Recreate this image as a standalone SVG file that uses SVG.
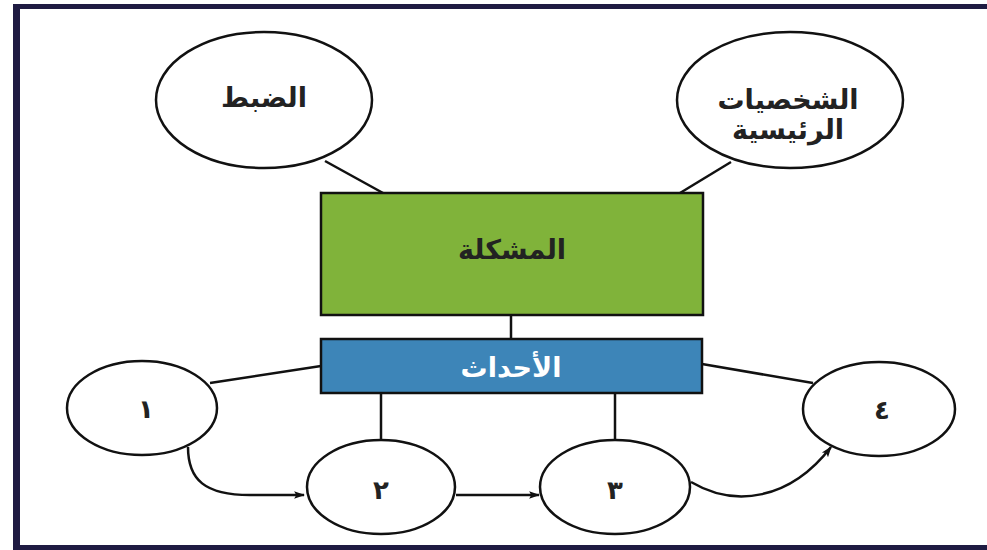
<svg xmlns="http://www.w3.org/2000/svg" width="987" height="550" viewBox="0 0 987 550">
<defs>
<style>
.n{fill:#fff;stroke:#111;stroke-width:2.5}
.t{font-family:"DejaVu Sans","Noto Sans",sans-serif;font-weight:bold;font-size:27px;fill:#222;text-anchor:middle;dominant-baseline:central}
.d{font-size:26px}
.c{fill:none;stroke:#111;stroke-width:2.5}
.f{fill:#1f1b42}
</style>
<marker id="ah" viewBox="0 0 10 10" refX="9" refY="5" markerWidth="11" markerHeight="11" orient="auto" markerUnits="userSpaceOnUse">
<path d="M0,1.5 L10,5 L0,8.5 L2,5 Z" fill="#111"/>
</marker>
</defs>
<rect width="987" height="550" fill="#fff"/>
<g id="frame">
<rect class="f" x="13" y="4" width="974" height="5"/>
<rect class="f" x="13" y="4" width="7" height="546"/>
<rect class="f" x="13" y="545" width="974" height="5"/>
</g>
<g id="connectors">
<line class="c" x1="325" y1="161" x2="383" y2="193"/>
<line class="c" x1="731" y1="162" x2="680" y2="193"/>
<line class="c" x1="511" y1="315" x2="511" y2="339"/>
<line class="c" x1="210" y1="383" x2="321" y2="366"/>
<line class="c" x1="702" y1="364" x2="813" y2="383"/>
<line class="c" x1="381" y1="393" x2="381" y2="440"/>
<line class="c" x1="615" y1="393" x2="615" y2="440"/>
<path class="c" d="M188,447 C188,480 205,495 250,495 L304,495" marker-end="url(#ah)"/>
<path class="c" d="M456,495 L539,495" marker-end="url(#ah)"/>
<path class="c" d="M691,482 C735,508 790,500 831,447" marker-end="url(#ah)"/>
</g>
<g id="node-control">
<ellipse class="n" cx="264" cy="100" rx="108" ry="68"/>
<text class="t" x="264" y="97">الضبط</text>
</g>
<g id="node-characters">
<ellipse class="n" cx="790" cy="100" rx="113" ry="68"/>
<text class="t" x="788" y="99">الشخصيات</text>
<text class="t" x="788" y="129">الرئيسية</text>
</g>
<g id="node-problem">
<rect x="321" y="193" width="382" height="122" fill="#80b33a" stroke="#111" stroke-width="2.5"/>
<text class="t" x="512" y="249">المشكلة</text>
</g>
<g id="node-events">
<rect x="321" y="339" width="381" height="54" fill="#3d85b8" stroke="#111" stroke-width="2.5"/>
<text class="t" x="511" y="367" style="fill:#fff">الأحداث</text>
</g>
<g id="node-1">
<ellipse class="n" cx="142" cy="408" rx="75" ry="47"/>
<text class="t d" x="146" y="409">١</text>
</g>
<g id="node-2">
<ellipse class="n" cx="381" cy="487" rx="74" ry="47"/>
<text class="t d" x="381" y="490">٢</text>
</g>
<g id="node-3">
<ellipse class="n" cx="615" cy="487" rx="75" ry="47"/>
<text class="t d" x="615" y="490">٣</text>
</g>
<g id="node-4">
<ellipse class="n" cx="879" cy="409" rx="76" ry="47"/>
<text class="t d" x="882" y="410">٤</text>
</g>
</svg>
